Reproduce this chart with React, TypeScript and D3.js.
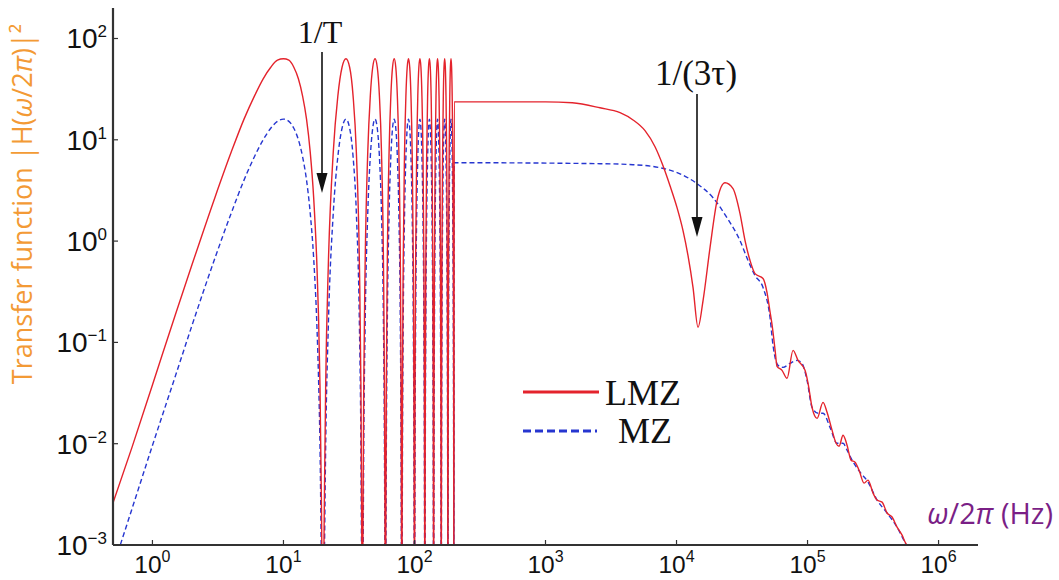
import React from 'react';
import * as d3 from 'd3';

const W = 1059;
const H = 580;

// Oscillating region (0.5 Hz – 200 Hz), frequencies in Hz
const oscFreq = [
  0.5, 0.7, 1, 1.5, 2, 3, 4, 5, 6, 7, 8, 9, 10, 11, 12, 13, 14, 15, 16, 17, 18, 18.5, 19, 19.5, 20,
  20.5, 21, 22, 24, 26, 28, 30, 32, 34, 36, 38, 39, 39.5, 40,
  40.5, 41, 42, 44, 46, 48, 50, 52, 54, 56, 58, 59, 59.5, 60,
  60.5, 61, 62, 64, 66, 68, 70, 72, 74, 76, 78, 79, 79.5, 80,
  80.5, 81, 82, 84, 86, 88, 90, 92, 94, 96, 98, 99, 99.5, 100,
  100.5, 101, 102, 104, 106, 108, 110, 112, 114, 116, 118, 119, 119.5, 120,
  120.5, 121, 122, 124, 126, 128, 130, 132, 134, 136, 138, 139, 139.5, 140,
  140.5, 141, 142, 144, 146, 148, 150, 152, 154, 156, 158, 159, 159.5, 160,
  160.5, 161, 162, 164, 166, 168, 170, 172, 174, 176, 178, 179, 179.5, 180,
  180.5, 181, 182, 184, 186, 188, 190, 192, 194, 196, 198, 199, 199.5, 200,
];
const oscLMZ = [
  0.0026, 0.0093, 0.038, 0.19, 0.58, 2.7, 7.6, 16, 27, 40, 52, 61, 63, 61, 52, 40, 27, 16, 7.6, 2.7, 0.58, 0.19, 0.038, 0.0024, 0.0001,
  0.0024, 0.038, 0.58, 7.6, 27, 52, 63, 52, 27, 7.6, 0.58, 0.038, 0.0024, 0.0001,
  0.0024, 0.038, 0.58, 7.6, 27, 52, 63, 52, 27, 7.6, 0.58, 0.038, 0.0024, 0.0001,
  0.0024, 0.038, 0.58, 7.6, 27, 52, 63, 52, 27, 7.6, 0.58, 0.038, 0.0024, 0.0001,
  0.0024, 0.038, 0.58, 7.6, 27, 52, 63, 52, 27, 7.6, 0.58, 0.038, 0.0024, 0.0001,
  0.0024, 0.038, 0.58, 7.6, 27, 52, 63, 52, 27, 7.6, 0.58, 0.038, 0.0024, 0.0001,
  0.0024, 0.038, 0.58, 7.6, 27, 52, 63, 52, 27, 7.6, 0.58, 0.038, 0.0024, 0.0001,
  0.0024, 0.038, 0.58, 7.6, 27, 52, 63, 52, 27, 7.6, 0.58, 0.038, 0.0024, 0.0001,
  0.0024, 0.038, 0.58, 7.6, 27, 52, 63, 52, 27, 7.6, 0.58, 0.038, 0.0024, 0.0001,
  0.0024, 0.038, 0.58, 7.6, 27, 52, 63, 52, 27, 7.6, 0.58, 0.038, 0.0024, 0.0001,
];
const oscMZ = [
  0.0006, 0.0023, 0.0096, 0.047, 0.146, 0.68, 1.9, 4.0, 6.8, 10, 13, 15.2, 16, 15.2, 13, 10, 6.8, 4.0, 1.9, 0.68, 0.146, 0.047, 0.0096, 0.0006, 0.00003,
  0.0006, 0.0096, 0.146, 1.9, 6.8, 13, 16, 13, 6.8, 1.9, 0.146, 0.0096, 0.0006, 0.00003,
  0.0006, 0.0096, 0.146, 1.9, 6.8, 13, 16, 13, 6.8, 1.9, 0.146, 0.0096, 0.0006, 0.00003,
  0.0006, 0.0096, 0.146, 1.9, 6.8, 13, 16, 13, 6.8, 1.9, 0.146, 0.0096, 0.0006, 0.00003,
  0.0006, 0.0096, 0.146, 1.9, 6.8, 13, 16, 13, 6.8, 1.9, 0.146, 0.0096, 0.0006, 0.00003,
  0.0006, 0.0096, 0.146, 1.9, 6.8, 13, 16, 13, 6.8, 1.9, 0.146, 0.0096, 0.0006, 0.00003,
  0.0006, 0.0096, 0.146, 1.9, 6.8, 13, 16, 13, 6.8, 1.9, 0.146, 0.0096, 0.0006, 0.00003,
  0.0006, 0.0096, 0.146, 1.9, 6.8, 13, 16, 13, 6.8, 1.9, 0.146, 0.0096, 0.0006, 0.00003,
  0.0006, 0.0096, 0.146, 1.9, 6.8, 13, 16, 13, 6.8, 1.9, 0.146, 0.0096, 0.0006, 0.00003,
  0.0006, 0.0096, 0.146, 1.9, 6.8, 13, 16, 13, 6.8, 1.9, 0.146, 0.0096, 0.0006, 0.00003,
];

// Averaged region above 200 Hz
const tailFreqLMZ = [
  201, 1000, 1600, 2606, 3706, 4656, 5749, 6853, 7886, 8919, 10090, 11210, 12240, 13370, 14590,
  15940, 18020, 20390, 23460, 26990, 30520, 33340, 36400, 39740, 45750, 49070, 51730,
  53580, 56480, 58500, 63880, 69750, 77500, 84630, 95700, 100900, 108200, 118200, 131300,
  140900, 153800, 165100, 174000, 186700, 200300, 214900, 230500, 247300, 270000, 289600,
  316200, 339300, 370600, 404500, 441600, 482300, 526600, 555100, 595500,
];
const tailLMZ = [
  23.7, 23.7, 23.2, 20.7, 18.5, 15.7, 12.3, 8.53, 5.54, 3.52, 2.14, 1.27, 0.719, 0.348, 0.141,
  0.259, 0.863, 2.51, 3.77, 3.3, 1.87, 1.01, 0.643, 0.478, 0.427, 0.31, 0.2,
  0.15, 0.085, 0.058, 0.053, 0.0442, 0.0834, 0.0665, 0.053, 0.0395, 0.0229, 0.0178, 0.0256,
  0.0204, 0.0136, 0.0101, 0.00945, 0.0121, 0.00966, 0.00688, 0.00657, 0.00548, 0.00408, 0.00437,
  0.00325, 0.00278, 0.00265, 0.00207, 0.00189, 0.0015, 0.00125, 0.00107, 0.00093,
];
const tailFreqMZ = [
  201, 2606, 4656, 7482, 10630, 14340, 18990, 24290, 30520, 35150, 39740, 45750, 51730,
  54530, 59540, 65010, 73500, 83150, 90780, 99130, 108200, 120300, 131300, 148500, 168000,
  186700, 200300, 218700, 251700, 289600, 339300, 404500, 482300, 564900,
];
const tailMZ = [
  5.94, 5.81, 5.68, 5.3, 4.62, 3.69, 2.68, 1.7, 1.01, 0.643, 0.457, 0.348, 0.176,
  0.0934, 0.0593, 0.0567, 0.0621, 0.0665, 0.0621, 0.0422, 0.0229, 0.02, 0.02, 0.0145, 0.0101,
  0.0101, 0.00863, 0.00688, 0.00524, 0.00418, 0.00278, 0.00207, 0.0015, 0.001,
];

const xTicks = [1, 10, 100, 1e3, 1e4, 1e5, 1e6];
const xTickExp = ['0', '1', '2', '3', '4', '5', '6'];
const yTicks = [1e2, 1e1, 1, 1e-1, 1e-2, 1e-3];
const yTickExp = ['2', '1', '0', '\u22121', '\u22122', '\u22123'];

const RED = '#e4232c';
const BLUE = '#2636d0';
const AXIS = '#333';

export default function App() {
  const x = d3.scaleLog().domain([0.5, 2e6]).range([113, 978]);
  const y = d3.scaleLog().domain([1e-3, 200]).range([545, 8]);
  const line = d3
    .line<[number, number]>()
    .x((d) => x(d[0]))
    .y((d) => y(d[1]))
    .curve(d3.curveMonotoneX);

  const lmz: [number, number][] = [
    ...oscFreq.map((f, i) => [f, oscLMZ[i]] as [number, number]),
    ...tailFreqLMZ.map((f, i) => [f, tailLMZ[i]] as [number, number]),
  ];
  const mz: [number, number][] = [
    ...oscFreq.map((f, i) => [f, oscMZ[i]] as [number, number]),
    ...tailFreqMZ.map((f, i) => [f, tailMZ[i]] as [number, number]),
  ];

  const x0 = x.range()[0];
  const x1 = x.range()[1];
  const yb = y.range()[0];
  const yt = y.range()[1];

  const arrow = (ax: number, ya: number, yb2: number) => (
    <g>
      <line x1={ax} y1={ya} x2={ax} y2={yb2 - 14} stroke="#111" strokeWidth={1.6} />
      <path d={`M${ax - 5.5},${yb2 - 20} L${ax + 5.5},${yb2 - 20} L${ax},${yb2} Z`} fill="#111" />
    </g>
  );

  return (
    <svg
      width={W}
      height={H}
      style={{ position: 'absolute', left: 0, top: 0, background: '#fff' }}
    >
      <defs>
        <clipPath id="plotclip">
          <rect x={x0} y={yt} width={x1 - x0} height={yb - yt} />
        </clipPath>
      </defs>
      <rect width={W} height={H} fill="#fff" />

      <g clipPath="url(#plotclip)">
        <path d={line(mz) || ''} fill="none" stroke={BLUE} strokeWidth={1.4} strokeDasharray="5,3" />
        <path d={line(lmz) || ''} fill="none" stroke={RED} strokeWidth={1.4} />
      </g>

      {/* axes */}
      <line x1={x0} y1={yb} x2={x1} y2={yb} stroke={AXIS} strokeWidth={2.2} />
      <line x1={x0} y1={yt} x2={x0} y2={yb} stroke={AXIS} strokeWidth={2.2} />

      {xTicks.map((t, i) => (
        <g key={'xt' + i}>
          <line x1={x(t)} x2={x(t)} y1={yb} y2={yb - 5} stroke={AXIS} strokeWidth={1.2} />
          <text
            x={x(t)}
            y={573}
            textAnchor="middle"
            fontFamily="Liberation Sans, Arial, sans-serif"
            fontSize={24.5}
            fill="#111"
          >
            10
            <tspan fontSize={16} dy={-11}>
              {xTickExp[i]}
            </tspan>
          </text>
        </g>
      ))}

      {yTicks.map((t, i) => (
        <g key={'yt' + i}>
          <line x1={x0} x2={x0 + 5} y1={y(t)} y2={y(t)} stroke={AXIS} strokeWidth={1.2} />
          <text
            x={107}
            y={y(t) + 10}
            textAnchor="end"
            fontFamily="Liberation Sans, Arial, sans-serif"
            fontSize={28}
            fill="#111"
          >
            10
            <tspan fontSize={17} dy={-11}>
              {yTickExp[i]}
            </tspan>
          </text>
        </g>
      ))}

      {/* axis titles */}
      <text
        transform="translate(32,204) rotate(-90)"
        textAnchor="middle"
        fontFamily="Open Sans, sans-serif"
        fontSize={27}
        fill="#f39a35"
      >
        Transfer function |H(<tspan fontStyle="italic">ω</tspan>/2<tspan fontStyle="italic">π</tspan>)|²
      </text>
      <text
        x={1053}
        y={524}
        textAnchor="end"
        fontFamily="Open Sans, sans-serif"
        fontSize={29}
        fill="#7a1f86"
      >
        <tspan fontStyle="italic">ω</tspan>/2<tspan fontStyle="italic">π</tspan> (Hz)
      </text>

      {/* annotations */}
      <text x={320} y={43} textAnchor="middle" fontFamily="Liberation Serif, Times New Roman, serif" fontSize={32} fill="#111">
        1/T
      </text>
      {arrow(322, 52, 193)}
      <text x={696} y={85} textAnchor="middle" fontFamily="Liberation Serif, Times New Roman, serif" fontSize={35} fill="#111">
        1/(3τ)
      </text>
      {arrow(697, 94, 237)}

      {/* legend */}
      <line x1={523} x2={599} y1={392} y2={392} stroke={RED} strokeWidth={3} />
      <text x={605} y={405} fontFamily="Liberation Serif, Times New Roman, serif" fontSize={36} fill="#111">
        LMZ
      </text>
      <line x1={523} x2={597} y1={431} y2={431} stroke={BLUE} strokeWidth={3} strokeDasharray="8,4" />
      <text x={618} y={443} fontFamily="Liberation Serif, Times New Roman, serif" fontSize={36} fill="#111">
        MZ
      </text>
    </svg>
  );
}
